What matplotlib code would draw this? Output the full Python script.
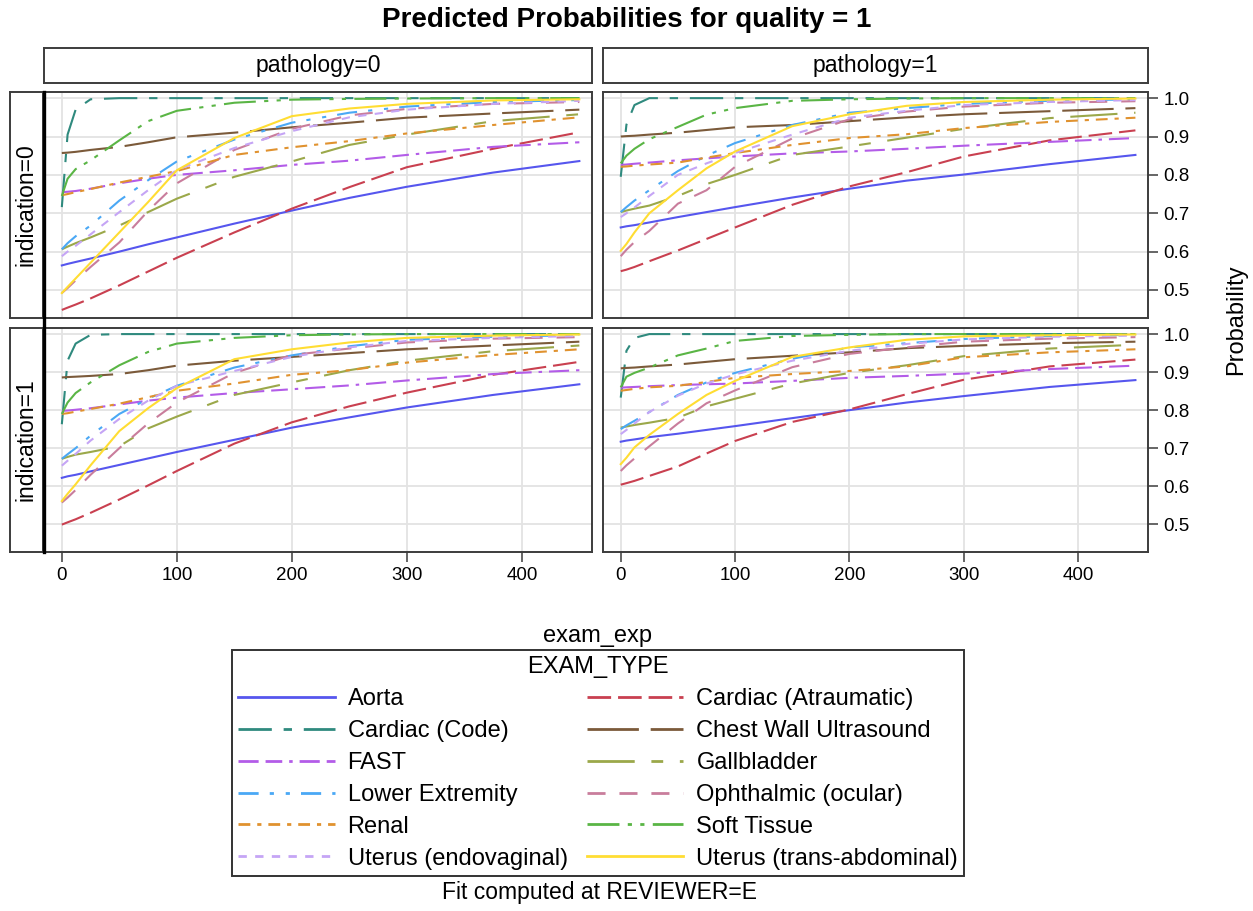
"""
Predicted probabilities for quality = 1, paneled by pathology x indication.

Re-draws a SAS-style 2x2 lattice of fitted curves (one line per exam type)
and writes out.png.
"""

import matplotlib.pyplot as plt
from matplotlib.lines import Line2D


# ---------------------------------------------------------------------------
# Data
# ---------------------------------------------------------------------------

EXAM_EXP = [0, 5, 12, 25, 50, 75, 100, 150, 200, 250, 300, 375, 450]

# each series: 4 rows, panel order
# (pathology=0, indication=0), (pathology=1, indication=0),
# (pathology=0, indication=1), (pathology=1, indication=1)
AORTA = [
    [0.564, 0.568, 0.573, 0.582, 0.600, 0.619, 0.637, 0.673, 0.707, 0.740, 0.769, 0.806, 0.836],
    [0.663, 0.666, 0.669, 0.676, 0.690, 0.703, 0.716, 0.741, 0.764, 0.785, 0.801, 0.828, 0.852],
    [0.622, 0.626, 0.630, 0.639, 0.656, 0.673, 0.690, 0.722, 0.754, 0.781, 0.807, 0.840, 0.868],
    [0.717, 0.720, 0.723, 0.729, 0.738, 0.748, 0.758, 0.779, 0.800, 0.820, 0.837, 0.861, 0.879],
]
CARDIAC_ATRAUMATIC = [
    [0.448, 0.454, 0.462, 0.478, 0.512, 0.548, 0.584, 0.650, 0.712, 0.768, 0.820, 0.868, 0.911],
    [0.549, 0.553, 0.560, 0.575, 0.603, 0.633, 0.663, 0.722, 0.770, 0.807, 0.848, 0.890, 0.916],
    [0.499, 0.505, 0.513, 0.530, 0.565, 0.602, 0.640, 0.712, 0.768, 0.810, 0.846, 0.893, 0.927],
    [0.604, 0.608, 0.614, 0.627, 0.652, 0.686, 0.719, 0.769, 0.802, 0.842, 0.880, 0.915, 0.933],
]
CARDIAC_CODE = [
    [0.716, 0.905, 0.970, 0.997, 1.000, 1.000, 1.000, 1.000, 1.000, 1.000, 1.000, 1.000, 1.000],
    [0.795, 0.931, 0.982, 1.000, 1.000, 1.000, 1.000, 1.000, 1.000, 1.000, 1.000, 1.000, 1.000],
    [0.763, 0.930, 0.975, 0.998, 1.000, 1.000, 1.000, 1.000, 1.000, 1.000, 1.000, 1.000, 1.000],
    [0.833, 0.956, 0.990, 1.000, 1.000, 1.000, 1.000, 1.000, 1.000, 1.000, 1.000, 1.000, 1.000],
]
CHEST_WALL = [
    [0.857, 0.858, 0.860, 0.865, 0.873, 0.885, 0.898, 0.910, 0.924, 0.936, 0.949, 0.960, 0.970],
    [0.900, 0.901, 0.902, 0.905, 0.910, 0.917, 0.924, 0.930, 0.940, 0.950, 0.958, 0.966, 0.974],
    [0.886, 0.887, 0.888, 0.890, 0.895, 0.905, 0.917, 0.930, 0.940, 0.950, 0.960, 0.970, 0.980],
    [0.910, 0.911, 0.912, 0.915, 0.920, 0.927, 0.934, 0.943, 0.952, 0.963, 0.969, 0.976, 0.980],
]
FAST = [
    [0.755, 0.756, 0.758, 0.764, 0.778, 0.790, 0.800, 0.812, 0.826, 0.837, 0.852, 0.873, 0.885],
    [0.826, 0.827, 0.829, 0.832, 0.838, 0.843, 0.848, 0.856, 0.861, 0.868, 0.876, 0.886, 0.896],
    [0.798, 0.799, 0.801, 0.805, 0.815, 0.825, 0.833, 0.845, 0.855, 0.865, 0.878, 0.895, 0.905],
    [0.859, 0.860, 0.861, 0.863, 0.866, 0.868, 0.870, 0.877, 0.885, 0.890, 0.896, 0.908, 0.917],
]
GALLBLADDER = [
    [0.606, 0.613, 0.622, 0.637, 0.668, 0.703, 0.738, 0.795, 0.835, 0.878, 0.905, 0.940, 0.958],
    [0.703, 0.707, 0.712, 0.720, 0.745, 0.776, 0.800, 0.852, 0.874, 0.897, 0.920, 0.948, 0.962],
    [0.672, 0.677, 0.683, 0.690, 0.705, 0.752, 0.783, 0.840, 0.873, 0.905, 0.930, 0.955, 0.970],
    [0.754, 0.757, 0.761, 0.767, 0.780, 0.810, 0.830, 0.870, 0.898, 0.918, 0.942, 0.962, 0.972],
]
LOWER_EXTREMITY = [
    [0.606, 0.622, 0.640, 0.668, 0.733, 0.786, 0.835, 0.892, 0.936, 0.962, 0.978, 0.990, 0.995],
    [0.703, 0.716, 0.733, 0.760, 0.810, 0.850, 0.883, 0.930, 0.962, 0.974, 0.985, 0.993, 0.997],
    [0.672, 0.684, 0.700, 0.733, 0.790, 0.830, 0.864, 0.912, 0.944, 0.968, 0.985, 0.993, 0.997],
    [0.750, 0.760, 0.772, 0.795, 0.840, 0.873, 0.898, 0.935, 0.965, 0.976, 0.987, 0.995, 0.998],
]
OPHTHALMIC = [
    [0.492, 0.505, 0.525, 0.560, 0.624, 0.706, 0.778, 0.865, 0.920, 0.955, 0.972, 0.985, 0.990],
    [0.588, 0.605, 0.625, 0.654, 0.725, 0.760, 0.821, 0.895, 0.945, 0.965, 0.978, 0.988, 0.992],
    [0.557, 0.570, 0.590, 0.630, 0.700, 0.765, 0.820, 0.898, 0.945, 0.962, 0.978, 0.988, 0.992],
    [0.640, 0.655, 0.673, 0.705, 0.765, 0.818, 0.852, 0.913, 0.948, 0.965, 0.980, 0.988, 0.992],
]
RENAL = [
    [0.747, 0.750, 0.755, 0.763, 0.780, 0.795, 0.810, 0.852, 0.872, 0.888, 0.908, 0.930, 0.950],
    [0.821, 0.822, 0.824, 0.827, 0.832, 0.845, 0.857, 0.878, 0.896, 0.906, 0.922, 0.938, 0.949],
    [0.790, 0.792, 0.796, 0.803, 0.817, 0.834, 0.851, 0.870, 0.893, 0.905, 0.925, 0.945, 0.960],
    [0.851, 0.853, 0.856, 0.860, 0.864, 0.874, 0.885, 0.895, 0.903, 0.915, 0.939, 0.952, 0.960],
]
SOFT_TISSUE = [
    [0.745, 0.790, 0.815, 0.838, 0.890, 0.940, 0.967, 0.988, 0.996, 0.998, 0.999, 1.000, 1.000],
    [0.830, 0.850, 0.868, 0.893, 0.925, 0.957, 0.974, 0.993, 0.997, 0.999, 1.000, 1.000, 1.000],
    [0.790, 0.820, 0.845, 0.873, 0.918, 0.953, 0.975, 0.990, 0.997, 0.999, 1.000, 1.000, 1.000],
    [0.860, 0.888, 0.898, 0.912, 0.944, 0.962, 0.982, 0.995, 0.998, 1.000, 1.000, 1.000, 1.000],
]
UTERUS_ENDOVAGINAL = [
    [0.588, 0.600, 0.615, 0.645, 0.703, 0.760, 0.813, 0.870, 0.914, 0.950, 0.970, 0.985, 0.993],
    [0.690, 0.700, 0.715, 0.745, 0.800, 0.830, 0.857, 0.905, 0.949, 0.967, 0.982, 0.990, 0.995],
    [0.654, 0.667, 0.685, 0.720, 0.777, 0.825, 0.864, 0.903, 0.940, 0.965, 0.982, 0.990, 0.995],
    [0.737, 0.748, 0.765, 0.795, 0.838, 0.870, 0.894, 0.930, 0.956, 0.974, 0.986, 0.993, 0.996],
]
UTERUS_TRANS = [
    [0.492, 0.508, 0.530, 0.571, 0.650, 0.729, 0.812, 0.896, 0.953, 0.973, 0.985, 0.994, 0.997],
    [0.602, 0.620, 0.650, 0.700, 0.760, 0.817, 0.861, 0.927, 0.958, 0.980, 0.990, 0.996, 0.999],
    [0.561, 0.580, 0.605, 0.655, 0.745, 0.805, 0.858, 0.934, 0.960, 0.978, 0.990, 0.996, 0.999],
    [0.658, 0.675, 0.702, 0.735, 0.790, 0.840, 0.877, 0.940, 0.965, 0.985, 0.994, 0.997, 0.999],
]

EXAM_TYPES = [
    "Aorta", "Cardiac (Atraumatic)", "Cardiac (Code)", "Chest Wall Ultrasound",
    "FAST", "Gallbladder", "Lower Extremity", "Ophthalmic (ocular)",
    "Renal", "Soft Tissue", "Uterus (endovaginal)", "Uterus (trans-abdominal)",
]
SERIES = [
    AORTA, CARDIAC_ATRAUMATIC, CARDIAC_CODE, CHEST_WALL,
    FAST, GALLBLADDER, LOWER_EXTREMITY, OPHTHALMIC,
    RENAL, SOFT_TISSUE, UTERUS_ENDOVAGINAL, UTERUS_TRANS,
]
PATHOLOGY_LABELS  = ["pathology=0", "pathology=1"]
INDICATION_LABELS = ["indication=0", "indication=1"]
X_TICKS = [0, 100, 200, 300, 400]
Y_TICKS = [0.5, 0.6, 0.7, 0.8, 0.9, 1.0]

# line styles (dashes in points, not scaled by width)
STYLES = [
    ("#5656EE", None),
    ("#C94050", (17, 5)),
    ("#2F8A7E", (24, 8.5, 6, 8.5)),
    ("#7B5A3A", (37, 8.5)),
    ("#B35CE8", (14.5, 5, 12, 5, 2.5, 5)),
    ("#9BA84A", (34, 12, 8.5, 12)),
    ("#4AA8F5", (14.5, 8, 3, 8.5, 3, 8)),
    ("#C97D9C", (13, 10)),
    ("#E0922F", (8.5, 5, 3, 5)),
    ("#5AB545", (23, 6, 3, 6, 3, 6)),
    ("#C5A5F5", (6, 6)),
    ("#FFDD33", None),
]

W, H = 1253, 911
GRID  = "#e3e3e3"
FRAME = "#3c3c3c"


def px_rect(x0, y0, x1, y1):
    """Pixel box (top-left origin) -> figure fraction rect."""
    return [x0 / W, 1 - y1 / H, (x1 - x0) / W, (y1 - y0) / H]


def linestyle(dash):
    return "-" if dash is None else (0, dash)


def strip(fig, box, label, rotation=0):
    hx = fig.add_axes(px_rect(*box))
    hx.set_xticks([])
    hx.set_yticks([])
    for sp in hx.spines.values():
        sp.set_color(FRAME)
        sp.set_linewidth(1.4)
    hx.text(0.5, 0.5, label, ha="center", va="center", rotation=rotation,
            fontsize=16.5, transform=hx.transAxes)


# ---------------------------------------------------------------------------
# Plot
# ---------------------------------------------------------------------------

def main() -> None:
    plt.rcParams["font.family"] = ["Liberation Sans", "DejaVu Sans"]
    plt.rcParams["lines.scale_dashes"] = False

    fig = plt.figure(figsize=(W / 100, H / 100), dpi=100)

    col_x = [(44, 592), (603, 1148)]
    row_y = [(92, 318), (328, 552)]

    for r, (y0, y1) in enumerate(row_y):
        for c, (x0, x1) in enumerate(col_x):
            k = r * 2 + c
            ax = fig.add_axes(px_rect(x0, y0, x1, y1))
            for (color, dash), values in zip(STYLES, SERIES):
                ax.plot(EXAM_EXP, values[k], color=color, lw=1.5,
                        linestyle=linestyle(dash))

            ax.set_xlim(-15.5, 461)
            ax.set_ylim(0.427, 1.016)
            ax.set_xticks(X_TICKS)
            ax.set_yticks(Y_TICKS)
            ax.set_yticklabels([f"{v:.1f}" for v in Y_TICKS])
            ax.set_axisbelow(True)
            ax.grid(True, color=GRID, lw=1.3)
            for sp in ax.spines.values():
                sp.set_color(FRAME)
                sp.set_linewidth(1.4)

            ax.tick_params(direction="out", length=7, width=1.1, color=FRAME,
                           labelsize=13.5, pad=4)
            ax.yaxis.tick_right()
            ax.tick_params(axis="y", right=(c == 1), labelright=(c == 1))
            ax.tick_params(axis="x", bottom=(r == 1), labelbottom=(r == 1))

    for c, (x0, x1) in enumerate(col_x):
        strip(fig, (x0, 48, x1, 83), PATHOLOGY_LABELS[c])
    for r, (y0, y1) in enumerate(row_y):
        strip(fig, (10, y0, 43, y1), INDICATION_LABELS[r], rotation=90)

    # thick black rule between row headers and panels
    fig.add_artist(Line2D([43.5 / W, 43.5 / W], [1 - 92 / H, 1 - 552 / H],
                          transform=fig.transFigure, color="black", lw=2.4))

    fig.text(627 / W, 1 - 20 / H, "Predicted Probabilities for quality = 1",
             ha="center", va="center", fontsize=20, fontweight="bold")
    fig.text(597 / W, 1 - 636 / H, "exam_exp", ha="center", va="center",
             fontsize=17)
    fig.text(1236 / W, 1 - 320 / H, "Probability", ha="center", va="center",
             rotation=90, fontsize=17)
    fig.text(600 / W, 1 - 893 / H, "Fit computed at REVIEWER=E",
             ha="center", va="center", fontsize=16.5)

    # legend, filled row-major like the SAS one
    handles = [Line2D([], [], color=color, lw=2, linestyle=linestyle(dash))
               for color, dash in STYLES]
    order = list(range(0, 12, 2)) + list(range(1, 12, 2))
    leg = fig.legend([handles[i] for i in order], [EXAM_TYPES[i] for i in order],
                     loc="upper center", bbox_to_anchor=(598 / W, 1 - 650 / H),
                     borderaxespad=0, ncol=2, title="EXAM_TYPE",
                     fontsize=17, title_fontsize=17,
                     frameon=True, fancybox=False, edgecolor="black",
                     handlelength=4.1, handletextpad=0.55, columnspacing=0.8,
                     labelspacing=0.42, borderpad=0.26)
    leg.get_frame().set_linewidth(1.4)

    fig.savefig("out.png", dpi=100)
    plt.close(fig)


if __name__ == "__main__":
    main()
